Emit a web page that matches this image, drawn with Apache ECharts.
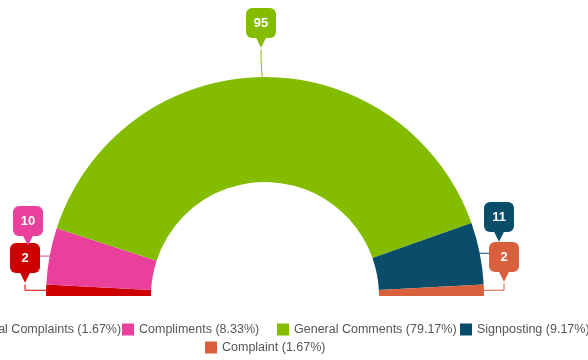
<!DOCTYPE html>
<html><head><meta charset="utf-8">
<script src="https://cdn.jsdelivr.net/npm/echarts@6/dist/echarts.min.js"></script>
<style>html,body{margin:0;padding:0;background:#fff}#c{width:588px;height:360px}</style>
</head><body><div id="c"></div>
<script>
const categories = ['Formal Complaints', 'Compliments', 'General Comments', 'Signposting', 'Complaint'];
const values = [2, 10, 95, 11, 2];
const colors = ['#cc0000', '#e8409b', '#84bc00', '#0a4d6a', '#d8603c'];

const labelPos = [[25, 243], [28, 206], [261, 8], [499, 202], [504, 242]];
const legendPos = [[-53, 318], [117, 318], [272, 318], [455, 318], [200, 336]];
const total = values.reduce((a, b) => a + b, 0);
const pct = {};
categories.forEach((c, i) => pct[c] = (values[i] / total * 100).toFixed(2));

const chart = echarts.init(document.getElementById('c'));
chart.setOption({
  animation: false,
  color: colors,
  legend: categories.map((c, i) => ({
    data: [c], left: legendPos[i][0], top: legendPos[i][1],
    orient: 'horizontal', icon: 'rect', itemWidth: 12, itemHeight: 12,
    textStyle: { color: '#555', fontSize: 12.5, fontFamily: 'Liberation Sans, Arial' },
    formatter: n => n + ' (' + pct[n] + '%)', selectedMode: false
  })),
  series: [{
    type: 'pie',
    center: [265, 296],
    radius: [114, 219],
    startAngle: 180,
    endAngle: 0,
    clockwise: true,
    avoidLabelOverlap: false,
    data: categories.map((c, i) => ({
      name: c, value: values[i],
      label: {
        formatter: '{v|{c}}\n{t|▼}',
        rich: {
          v: { backgroundColor: colors[i], color: '#fff', fontSize: 13, fontWeight: 'bold',
               fontFamily: 'Liberation Sans, Arial', width: 16,
               padding: [9, 7, 8, 7], borderRadius: 6, align: 'center' },
          t: { color: colors[i], fontSize: 15, lineHeight: 8, fontFamily: 'DejaVu Sans', align: 'center' }
        }
      },
      labelLine: { lineStyle: { color: colors[i], width: 1 } }
    })),
    label: { show: true, position: 'outside' },
    labelLine: { show: true, length: 15, length2: 10 },
    labelLayout: p => ({ x: labelPos[p.dataIndex][0], y: labelPos[p.dataIndex][1], align: 'center', verticalAlign: 'top' }),
    emphasis: { disabled: true }
  }]
});
</script></body></html>
